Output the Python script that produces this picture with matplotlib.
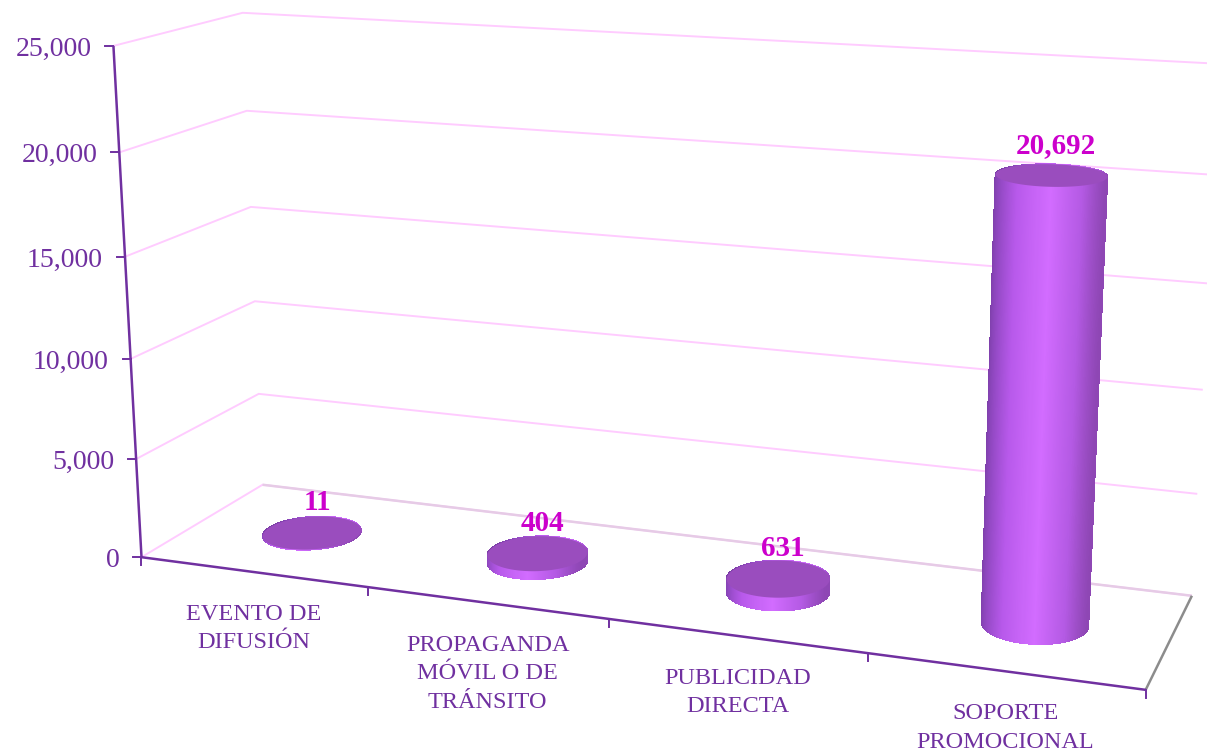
import numpy as np
import matplotlib
matplotlib.use("Agg")
import matplotlib.pyplot as plt
from matplotlib.colors import LinearSegmentedColormap
from matplotlib.collections import PolyCollection

categories = ["EVENTO DE\nDIFUSIÓN", "PROPAGANDA\nMÓVIL O DE\nTRÁNSITO", "PUBLICIDAD\nDIRECTA", "SOPORTE\nPROMOCIONAL"]
values = [11, 404, 631, 20692]
value_labels = ["11", "404", "631", "20,692"]
y_ticks = [0, 5000, 10000, 15000, 20000, 25000]
y_max = 25000

W, H = 1207, 755
PURPLE = "#7030A0"
MAGENTA = "#CC00CC"
GRID = "#FFCCFF"
TOP = "#9A4DBE"
FONT = "Liberation Serif"

# camera of the pseudo-3D chart: (category fraction, value fraction, depth) -> pixel
anchors = [
    ((0, 0, 0), (141, 557)), ((0, 1, 0), (113, 46)), ((0, .2, 0), (136, 457)), ((0, .6, 0), (125, 257)),
    ((0, 0, 1), (262, 484)), ((0, 1, 1), (243, 13)), ((0, .6, 1), (251, 208)),
    ((1, 0, 0), (1145, 688)), ((1, 0, 1), (1192, 596)), ((1, 1, 1), (1220, 63)),
    ((.25, 0, 0), (369, 587)), ((.5, 0, 0), (610, 621)), ((.75, 0, 0), (868, 655)),
]
A = []
for (u, v, w), (x, y) in anchors:
    A.append([u, v, w, 1, 0, 0, 0, 0, -x*u, -x*v, -x*w, -x])
    A.append([0, 0, 0, 0, u, v, w, 1, -y*u, -y*v, -y*w, -y])
P = np.linalg.svd(np.array(A, float))[2][-1].reshape(3, 4)


def proj(u, v, w):
    u, v, w = np.broadcast_arrays(np.asarray(u, float), np.asarray(v, float), np.asarray(w, float))
    X = np.stack([u, v, w, np.ones_like(u, dtype=float)], -1)
    p = X @ P.T
    return p[..., 0] / p[..., 2], p[..., 1] / p[..., 2]


fig = plt.figure(figsize=(W / 100, H / 100), dpi=100, facecolor="white")
ax = fig.add_axes([0, 0, 1, 1])
ax.set_xlim(0, W)
ax.set_ylim(H, 0)
ax.axis("off")


def line(us, vs, ws, **kw):
    x, y = proj(us, vs, ws)
    ax.plot(x, y, solid_capstyle="butt", solid_joinstyle="miter", **kw)


# walls
for t in y_ticks:
    f = t / y_max
    line([0, 0, 1], [f, f, f], [0, 1, 1], color=GRID, lw=1.4, zorder=1)
line([0, 1], [0, 0], [1, 1], color="#E6CBE6", lw=1.8, zorder=1.1)
line([1, 1], [0, 0], [0, 1], color="#8C8C8C", lw=1.8, zorder=1.2)

# axes
line([0, 0], [0, 1], [0, 0], color=PURPLE, lw=1.8, zorder=2)
line([0, 1], [0, 0], [0, 0], color=PURPLE, lw=1.8, zorder=2)
for t in y_ticks:
    x, y = proj(0, t / y_max, 0)
    ax.plot([x - 8, x], [y, y], color=PURPLE, lw=1.4, zorder=2)
    ax.text(x - 22, y + 10, f"{t:,}", ha="right", va="baseline", color=PURPLE, fontsize=20, family=FONT)
for i in range(len(categories) + 1):
    x, y = proj(i / len(categories), 0, 0)
    ax.plot([x, x], [y, y + 8], color=PURPLE, lw=1.4, zorder=2)

# cylinders
shade = LinearSegmentedColormap.from_list("cyl", [
    (0.0, "#7A3EA6"), (0.12, "#9349C4"), (0.3, "#B759EA"), (0.6, "#D26CFF"),
    (0.85, "#B45AE4"), (1.0, "#8E47B4")])
ru, rw = 0.049, 0.21
theta = np.linspace(0, 2 * np.pi, 961)
n = len(categories)
for i, (val, lab) in enumerate(zip(values, value_labels)):
    uc = (i + .5) / n
    f = val / y_max
    uu = uc + ru * np.cos(theta)
    ww = .5 + rw * np.sin(theta)
    xb, yb = proj(uu, 0, ww)
    xt, yt = proj(uu, f, ww)
    keep = sorted(range(len(theta) - 1), key=lambda k: -ww[k])
    quads = [[(xb[k], yb[k]), (xb[k + 1], yb[k + 1]), (xt[k + 1], yt[k + 1]), (xt[k], yt[k])] for k in keep]
    cols = [shade((1 + np.cos(theta[k])) / 2) for k in keep]
    ax.add_collection(PolyCollection(quads, facecolors=cols, edgecolors=cols, linewidths=0.5, antialiaseds=False, zorder=3))
    ax.fill(xt, yt, color=TOP, lw=0, zorder=4)
    cx, cy = proj(uc, f, .5)
    ax.text(cx + 5, cy - 30, lab, ha="center", va="center", color=MAGENTA, fontsize=21, weight="bold", family=FONT, zorder=5)
    xm, ym = proj(uc, 0, 0)
    ax.text(xm + 1, ym + 32, categories[i], ha="center", va="top", color=PURPLE, fontsize=17.5, family=FONT,
            linespacing=1.47, zorder=5)

fig.savefig("out.png", dpi=100, facecolor="white")
